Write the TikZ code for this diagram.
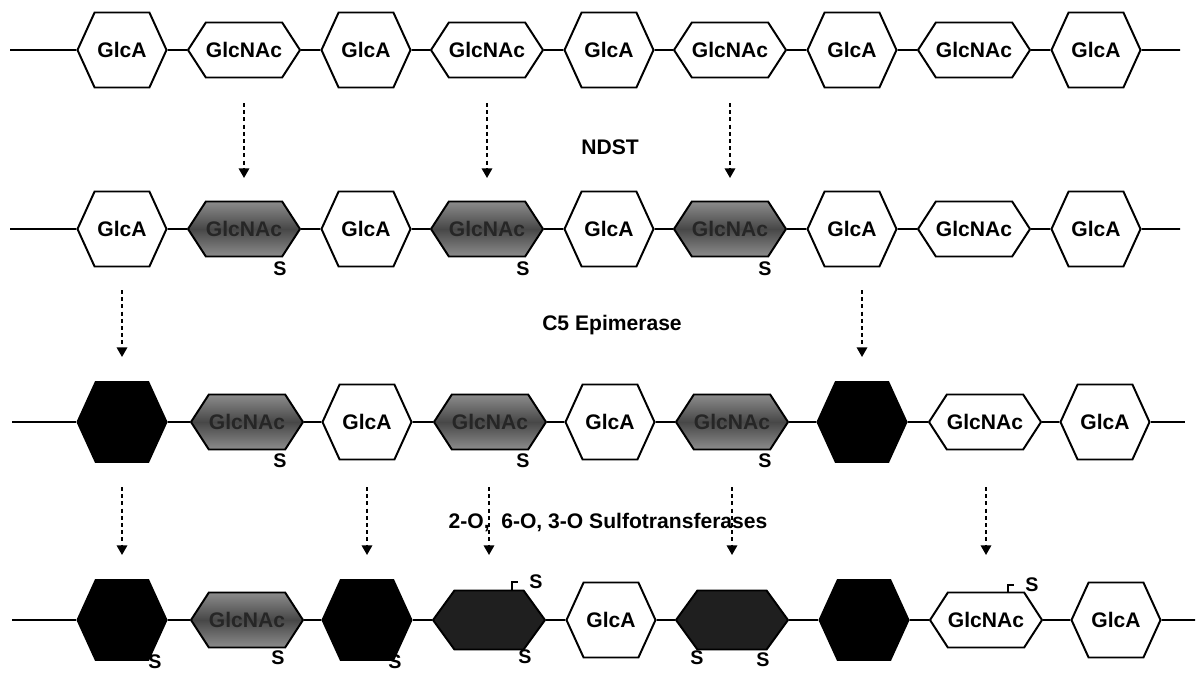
\documentclass[tikz,border=0pt]{standalone}
\usepackage{fontspec}
\setmainfont{Liberation Sans}
\usetikzlibrary{shapes.symbols,arrows.meta}

\tikzset{
    sugar/.style={signal, signal to=west and east, draw, line width=1.4pt, inner sep=0pt,
        font=\fontsize{15}{18}\selectfont\bfseries},
    glca/.style={sugar, fill=white, minimum width=22.25mm, minimum height=18.75mm, signal pointer angle=131},
    glcnac/.style={sugar, fill=white, minimum width=28mm, minimum height=13.75mm, signal pointer angle=114},
    nsulf/.style={glcnac, top color=black!45, bottom color=black!45, middle color=black!72, text=black!85},
    idoa/.style={sugar, fill=black, minimum width=22.25mm, minimum height=20mm, signal pointer angle=131},
    osulf/.style={glcnac, fill=black!88, minimum height=14.75mm, signal pointer angle=108},
    chain/.style={line width=1.1pt},
    enzyme/.style={line width=1.3pt, dash pattern=on 1mm off 0.8mm, -{Triangle[width=2.6mm,length=2.4mm]}},
    enzname/.style={font=\fontsize{15}{18}\selectfont\bfseries},
    sgroup/.style={font=\fontsize{14}{16}\selectfont\bfseries, inner sep=1pt}
}

\begin{document}
\begin{tikzpicture}[x=0.25mm, y=-0.25mm]
    \fill [white] (0,0) rectangle (1204,675);
    \useasboundingbox (0,0) rectangle (1204,675);

    % the four chains
    \foreach \x/\s/\t [count=\i] in {122/glca/GlcA, 244/glcnac/GlcNAc, 366/glca/GlcA, 487/glcnac/GlcNAc,
        609/glca/GlcA, 730/glcnac/GlcNAc, 852/glca/GlcA, 974/glcnac/GlcNAc, 1096/glca/GlcA}
        \node [\s] (a\i) at (\x,50) {\t};
    \foreach \x/\s/\t [count=\i] in {122/glca/GlcA, 244/nsulf/GlcNAc, 366/glca/GlcA, 487/nsulf/GlcNAc,
        609/glca/GlcA, 730/nsulf/GlcNAc, 852/glca/GlcA, 974/glcnac/GlcNAc, 1096/glca/GlcA}
        \node [\s] (b\i) at (\x,229) {\t};
    \foreach \x/\s/\t [count=\i] in {122/idoa/, 247/nsulf/GlcNAc, 367/glca/GlcA, 490/nsulf/GlcNAc,
        610/glca/GlcA, 732/nsulf/GlcNAc, 862/idoa/, 985/glcnac/GlcNAc, 1105/glca/GlcA}
        \node [\s] (c\i) at (\x,422) {\t};
    \foreach \x/\s/\t [count=\i] in {122/idoa/, 247/nsulf/GlcNAc, 367/idoa/, 489/osulf/,
        611/glca/GlcA, 732/osulf/, 864/idoa/, 986/glcnac/GlcNAc, 1116/glca/GlcA}
        \node [\s] (d\i) at (\x,620) {\t};

    \coordinate (a0) at (10,50);   \coordinate (a10) at (1180,50);
    \coordinate (b0) at (10,229);  \coordinate (b10) at (1180,229);
    \coordinate (c0) at (12,422);  \coordinate (c10) at (1185,422);
    \coordinate (d0) at (12,620);  \coordinate (d10) at (1195,620);
    \foreach \r in {a,b,c,d}
        \foreach \i [remember=\i as \last (initially 0)] in {1,...,10}
            \draw [chain] (\r\last) -- (\r\i);

    % sulfate groups
    \foreach \n/\dx/\dy [count=\k] in {b2/36/40, b4/36/40, b6/35/40, c2/33/39, c4/33/39, c6/33/39,
        d1/33/42, d2/31/38, d3/28/42, d4/36/37, d6/-35/38, d6/31/40}
        \node [sgroup] (s\k) at ([shift={(\dx,\dy)}]\n) {S};
    \node [sgroup] (t4) at ([shift={(47,-38)}]d4) {S};
    \node [sgroup] (t8) at ([shift={(46,-35)}]d8) {S};
    \draw [chain] ([shift={(23,0)}]d4.north) |- ([xshift=-2.5mm]t4.west);
    \draw [chain] ([shift={(22,0)}]d8.north) |- ([xshift=-2.5mm]t8.west);

    % enzyme steps
    \node [enzname] (ndst) at (610,147) {NDST};
    \node [enzname] (epi) at (612,325) {C5 Epimerase};
    \node [enzname] (ost) at (608,522) {2-O,\ \ 6-O, 3-O Sulfotransferases};

    \coordinate (top1) at (0,103); \coordinate (bot1) at (0,178);
    \coordinate (top2) at (0,290); \coordinate (bot2) at (0,357);
    \coordinate (top3) at (0,487); \coordinate (bot3) at (0,555);
    \foreach \v in {b2,b4,b6}
        \draw [enzyme] (\v |- top1) -- (\v |- bot1);
    \foreach \v in {c1,c7}
        \draw [enzyme] (\v |- top2) -- (\v |- bot2);
    \foreach \v in {d1,d3,d4,d6,d8}
        \draw [enzyme] (\v |- top3) -- (\v |- bot3);
\end{tikzpicture}
\end{document}
